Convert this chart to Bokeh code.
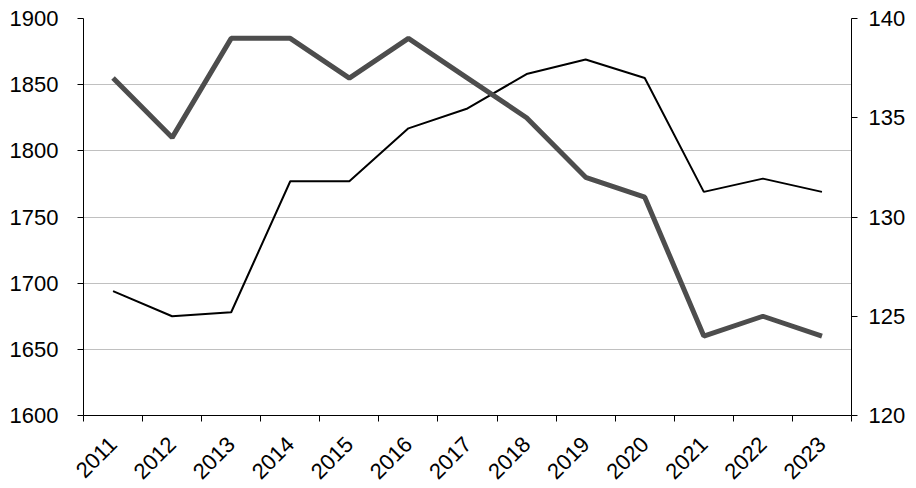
import math
from bokeh.plotting import figure
from bokeh.models import Range1d, LinearAxis, FixedTicker, ColumnDataSource
from bokeh.embed import file_html
from bokeh.resources import INLINE

years = ["2011", "2012", "2013", "2014", "2015", "2016", "2017",
         "2018", "2019", "2020", "2021", "2022", "2023"]
thin_left = [1694, 1675, 1678, 1777, 1777, 1817, 1832, 1858, 1869, 1855, 1769, 1779, 1769]
thick_right = [137, 134, 139, 139, 137, 139, 137, 135, 132, 131, 124, 125, 124]
left_ticks = [1600, 1650, 1700, 1750, 1800, 1850, 1900]
right_ticks = [120, 125, 130, 135, 140]

idx = list(range(len(years)))
src = ColumnDataSource(dict(x=idx, thin=thin_left, thick=thick_right))

FONT = "Liberation Sans"
FS = "22px"

p = figure(width=916, height=488, output_backend="svg", toolbar_location=None,
           x_range=Range1d(-0.5, len(years) - 0.5), y_range=Range1d(1600, 1900),
           min_border_left=83, min_border_right=65, min_border_top=18, min_border_bottom=71)
p.extra_y_ranges = {"right": Range1d(120, 140)}
p.outline_line_color = None
p.background_fill_color = "white"
p.border_fill_color = "white"

# x axis
xa = p.xaxis[0]
xa.ticker = FixedTicker(ticks=idx, minor_ticks=[i - 0.5 for i in range(len(years) + 1)])
xa.major_label_overrides = {i: y for i, y in enumerate(years)}
xa.major_label_orientation = math.pi / 4
xa.major_tick_out = 0
xa.major_tick_in = 0
xa.minor_tick_out = 6
xa.minor_tick_in = 0
xa.minor_tick_line_color = "black"
xa.axis_line_color = "black"
xa.major_label_text_font = FONT
xa.major_label_text_font_size = FS
xa.major_label_text_color = "black"
xa.major_label_standoff = 19

# left axis
ya = p.yaxis[0]
ya.ticker = FixedTicker(ticks=left_ticks)
ya.major_tick_out = 6
ya.major_tick_in = 0
ya.minor_tick_line_color = None
ya.axis_line_color = "black"
ya.major_tick_line_color = "black"
ya.major_label_text_font = FONT
ya.major_label_text_font_size = FS
ya.major_label_text_color = "black"
ya.major_label_standoff = 19

# right axis
ra = LinearAxis(y_range_name="right", ticker=FixedTicker(ticks=right_ticks))
ra.major_tick_out = 6
ra.major_tick_in = 0
ra.minor_tick_line_color = None
ra.axis_line_color = "black"
ra.major_tick_line_color = "black"
ra.major_label_text_font = FONT
ra.major_label_text_font_size = FS
ra.major_label_text_color = "black"
ra.major_label_standoff = 11
p.add_layout(ra, "right")

p.xgrid.grid_line_color = None
p.ygrid.grid_line_color = "#c0c0c0"
p.ygrid.grid_line_width = 1

p.line("x", "thin", source=src, line_color="black", line_width=2)
p.line("x", "thick", source=src, y_range_name="right", line_color="#4d4d4d", line_width=5)

open("out.html", "w").write(file_html(p, INLINE))
